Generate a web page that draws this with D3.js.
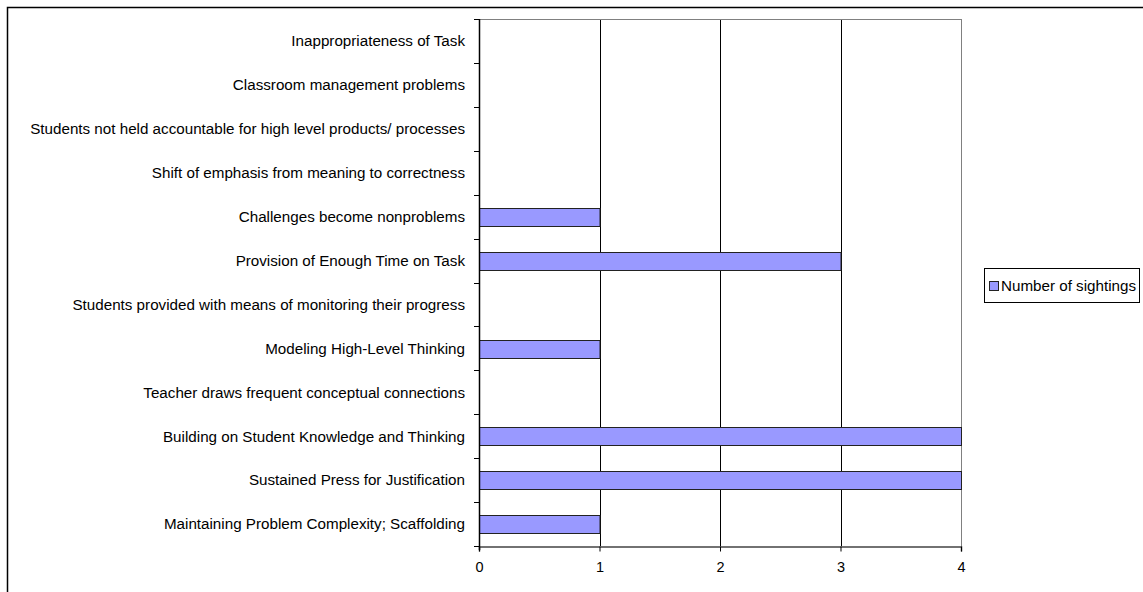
<!DOCTYPE html>
<html>
<head>
<meta charset="utf-8">
<script src="https://cdn.jsdelivr.net/npm/d3@7"></script>
<style>
  html, body { margin: 0; padding: 0; background: #fff; }
  svg { display: block; }
  text { font-family: "Liberation Sans", Arial, sans-serif; fill: #000; }
</style>
</head>
<body>
<svg id="chart" width="1143" height="592"></svg>
<script>
// Factors observed during lessons, listed top to bottom
const categories = [
  "Inappropriateness of Task",
  "Classroom management problems",
  "Students not held accountable for high level products/ processes",
  "Shift of emphasis from meaning to correctness",
  "Challenges become nonproblems",
  "Provision of Enough Time on Task",
  "Students provided with means of monitoring their progress",
  "Modeling High-Level Thinking",
  "Teacher draws frequent conceptual connections",
  "Building on Student Knowledge and Thinking",
  "Sustained Press for Justification",
  "Maintaining Problem Complexity; Scaffolding"
];
const sightings = [0, 0, 0, 0, 1, 3, 0, 1, 0, 4, 4, 1];
const xTicks = [0, 1, 2, 3, 4];
const seriesName = "Number of sightings";

const FONT = "15.2px";
const svg = d3.select("#chart");

// outer chart frame
svg.append("rect")
  .attr("x", 7.5).attr("y", 7.5)
  .attr("width", 1143).attr("height", 600)
  .attr("fill", "none").attr("stroke", "#000").attr("stroke-width", 1.5);

const plot = { left: 479, right: 961, top: 19, bottom: 546 };

const x = d3.scaleLinear().domain([0, 4]).range([plot.left, plot.right]);
const y = d3.scaleBand().domain(categories)
  .range([plot.top, plot.bottom]).paddingInner(0.6).paddingOuter(0.3);
const yBand = d3.scaleBand().domain(categories).range([plot.top, plot.bottom]);

// vertical gridlines
svg.append("g")
  .selectAll("line").data(xTicks.filter(d => d > 0)).join("line")
  .attr("x1", d => Math.round(x(d)) + 0.5).attr("x2", d => Math.round(x(d)) + 0.5)
  .attr("y1", plot.top).attr("y2", plot.bottom)
  .attr("stroke", d => d === 4 ? "#808080" : "#000").attr("stroke-width", 1);

// top border of plot area
svg.append("line")
  .attr("x1", plot.left).attr("x2", plot.right)
  .attr("y1", plot.top + 0.5).attr("y2", plot.top + 0.5)
  .attr("stroke", "#808080");

// bars
svg.append("g")
  .selectAll("rect").data(categories.map((c, i) => ({ c, v: sightings[i] })).filter(d => d.v > 0))
  .join("rect")
  .attr("x", x(0) + 0.5)
  .attr("y", d => Math.round(y(d.c)) + 0.5)
  .attr("width", d => x(d.v) - x(0))
  .attr("height", Math.round(y.bandwidth()))
  .attr("fill", "#9999FF")
  .attr("stroke", "#222").attr("stroke-width", 1);

// x axis
const xAxis = svg.append("g")
  .attr("transform", `translate(0,${plot.bottom + 0.5})`)
  .call(d3.axisBottom(x).tickValues(xTicks).tickSize(5).tickPadding(10).tickFormat(d3.format("d")));
xAxis.attr("font-size", null).attr("font-family", null);
xAxis.select(".domain").attr("stroke", "#444").attr("stroke-width", 1.5);
xAxis.selectAll(".tick line").attr("stroke", "#000");
xAxis.selectAll("text").style("font-size", "14.5px");

// y axis: ticks between categories
const yAxisG = svg.append("g");
yAxisG.append("line")
  .attr("x1", plot.left + 0.5).attr("x2", plot.left + 0.5)
  .attr("y1", plot.top).attr("y2", plot.bottom + 4)
  .attr("stroke", "#000").attr("stroke-width", 1.5);
const boundaries = categories.map(c => yBand(c)).concat([plot.bottom]);
yAxisG.selectAll("line.tick").data(boundaries).join("line")
  .attr("class", "tick")
  .attr("x1", plot.left - 5).attr("x2", plot.left)
  .attr("y1", d => Math.round(d) + 0.5).attr("y2", d => Math.round(d) + 0.5)
  .attr("stroke", "#000");
yAxisG.selectAll("text").data(categories).join("text")
  .attr("x", 465)
  .attr("y", d => yBand(d) + yBand.bandwidth() / 2)
  .attr("dy", "0.35em")
  .attr("text-anchor", "end")
  .style("font-size", FONT)
  .text(d => d);

// legend
const lg = svg.append("g").attr("transform", "translate(984,268)");
lg.append("rect")
  .attr("x", 0.5).attr("y", 0.5).attr("width", 155).attr("height", 34)
  .attr("fill", "#fff").attr("stroke", "#000");
lg.append("rect")
  .attr("x", 5.5).attr("y", 13.5).attr("width", 9).attr("height", 9)
  .attr("fill", "#9999FF").attr("stroke", "#222");
lg.append("text")
  .attr("x", 17).attr("y", 18).attr("dy", "0.35em")
  .style("font-size", FONT)
  .text(seriesName);
</script>
</body>
</html>
